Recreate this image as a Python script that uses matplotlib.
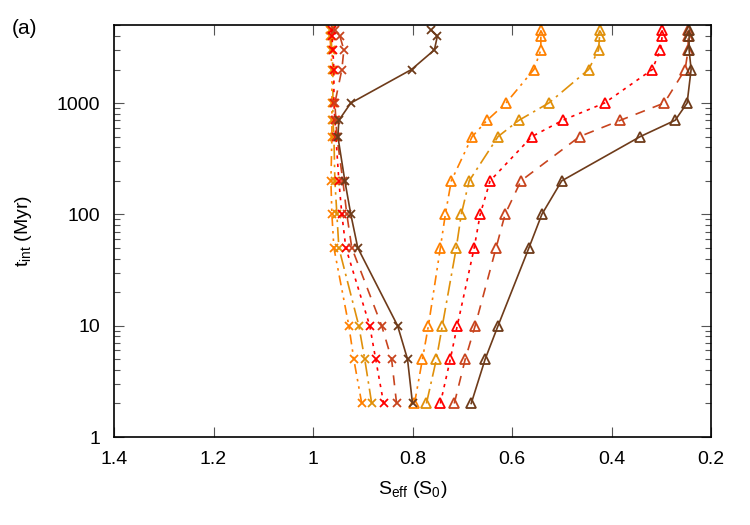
import numpy as np
import matplotlib
matplotlib.use('Agg')
import matplotlib.pyplot as plt
from matplotlib.ticker import LogLocator, NullFormatter, FixedLocator

plt.rcParams['font.family'] = ['Liberation Sans', 'DejaVu Sans']
plt.rcParams['mathtext.fontset'] = 'custom'
plt.rcParams['mathtext.rm'] = 'Liberation Sans'
plt.rcParams['mathtext.it'] = 'Liberation Sans'

# time of integration (Myr)
t_myr = [2, 5, 10, 50, 100, 200, 500, 700, 1000, 2000, 3000, 4000, 4500]

# inner edge (crosses), S_eff in S0
inner_lo = [0.902, 0.918, 0.928, 0.958, 0.962, 0.964, 0.962, 0.962, 0.962, 0.962, 0.964, 0.966, 0.966]
inner_do = [0.882, 0.896, 0.908, 0.948, 0.952, 0.956, 0.958, 0.960, 0.960, 0.960, 0.962, 0.964, 0.964]
inner_red = [0.858, 0.874, 0.886, 0.934, 0.942, 0.948, 0.954, 0.956, 0.958, 0.958, 0.960, 0.962, 0.962]
inner_rb = [0.832, 0.842, 0.862, 0.922, 0.932, 0.940, 0.952, 0.954, 0.956, 0.942, 0.938, 0.946, 0.955]
inner_br = [0.800, 0.810, 0.830, 0.910, 0.924, 0.936, 0.950, 0.948, 0.924, 0.802, 0.756, 0.750, 0.762]

# outer edge (triangles)
outer_lo = [0.796, 0.780, 0.768, 0.744, 0.734, 0.722, 0.680, 0.650, 0.612, 0.556, 0.542, 0.542, 0.542]
outer_do = [0.772, 0.752, 0.740, 0.712, 0.702, 0.686, 0.628, 0.586, 0.526, 0.446, 0.426, 0.424, 0.424]
outer_red = [0.744, 0.724, 0.710, 0.676, 0.664, 0.644, 0.560, 0.498, 0.414, 0.318, 0.302, 0.298, 0.298]
outer_rb = [0.716, 0.694, 0.674, 0.632, 0.614, 0.582, 0.464, 0.382, 0.294, 0.252, 0.246, 0.246, 0.246]
outer_br = [0.682, 0.654, 0.628, 0.566, 0.540, 0.500, 0.342, 0.272, 0.248, 0.240, 0.244, 0.244, 0.244]

inner = [inner_lo, inner_do, inner_red, inner_rb, inner_br]
outer = [outer_lo, outer_do, outer_red, outer_rb, outer_br]
colors = ['#ff8000', '#e0900a', '#ff0000', '#c8441e', '#6e3b1a']
styles = [(0, (6, 3, 1.5, 3, 1.5, 3)), (0, (9, 3, 1.5, 3)), (0, (2, 3)), (0, (6, 5)), '-']

fig = plt.figure(figsize=(7.5, 5.25), dpi=100)
ax = fig.add_axes([0.152, 0.1676, 0.796, 0.7844])

for i in range(5):
    ax.plot(inner[i], t_myr, color=colors[i], ls=styles[i], lw=1.2,
            marker='x', ms=6, mew=1.3)
    ax.plot(outer[i], t_myr, color=colors[i], ls=styles[i], lw=1.2,
            marker='^', ms=6.5, mew=1.3, mfc='none')

ax.set_yscale('log')
ax.set_xlim(1.4, 0.2)
ax.set_ylim(1, 5000)
ax.xaxis.set_major_locator(FixedLocator([1.4, 1.2, 1.0, 0.8, 0.6, 0.4, 0.2]))
ax.set_xticklabels(['1.4', '1.2', '1', '0.8', '0.6', '0.4', '0.2'])
ax.yaxis.set_major_locator(FixedLocator([1, 10, 100, 1000]))
ax.set_yticklabels(['1', '10', '100', '1000'])
ax.yaxis.set_minor_locator(LogLocator(base=10, subs=np.arange(2, 10)))
ax.yaxis.set_minor_formatter(NullFormatter())
ax.tick_params(which='major', direction='in', length=7, width=0.8, color='#555555',
               top=True, right=True, labelsize=14, pad=10)
ax.tick_params(which='minor', direction='in', length=4, width=0.8, color='#555555',
               top=False, right=True)
for sp in ax.spines.values():
    sp.set_linewidth(1.2)

ax.set_xlabel(r'S$_{\mathregular{eff}}$ (S$_{\mathregular{0}}$)', fontsize=14, labelpad=8)
ax.set_ylabel(r't$_{\mathregular{int}}$ (Myr)', fontsize=14, labelpad=16)
fig.text(0.016, 0.935, '(a)', fontsize=15)

fig.savefig('out.png', dpi=100)
